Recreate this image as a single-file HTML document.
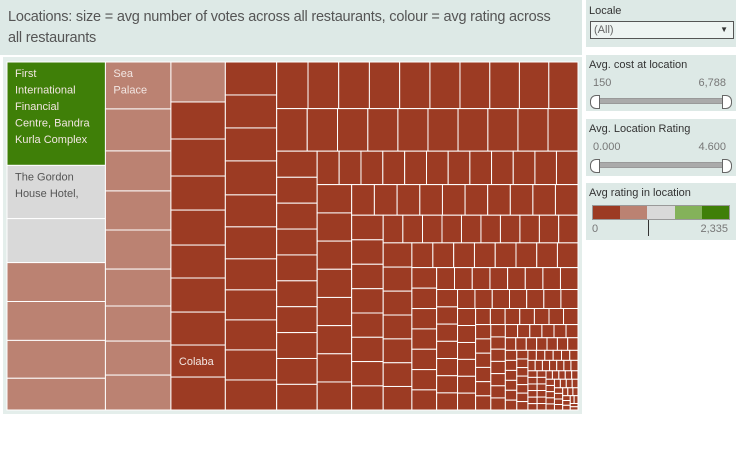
<!DOCTYPE html>
<html><head><meta charset="utf-8"><style>
body{margin:0;width:736px;height:454px;background:#fff;font-family:"Liberation Sans",sans-serif;position:relative;overflow:hidden}
.box{position:absolute;background:#dde9e6}
.t{position:absolute;font-size:11px;color:#333}
.n{position:absolute;font-size:11px;color:#777}
.track{position:absolute;height:4px;background:#aaa;border:1px solid #999}
.knob{position:absolute;width:8px;height:12px;background:#fff;border:1px solid #666}
</style></head><body>
<div class="box" style="left:0;top:0;width:582px;height:55px">
<div style="position:absolute;left:8px;top:7px;font-size:14.5px;letter-spacing:-0.2px;color:#555;line-height:21px;width:590px;white-space:nowrap">Locations: size = avg number of votes across all restaurants, colour = avg rating across<br>all restaurants</div></div>
<div style="position:absolute;left:3px;top:57px;width:579px;height:357px;background:#e4eeeb"></div>
<svg id="tm" width="736" height="454" style="position:absolute;left:0;top:0"></svg>

<div class="box" style="left:586px;top:0;width:150px;height:47px">
<div class="t" style="left:3px;top:5px">Locale</div>
<div style="position:absolute;left:4px;top:21px;width:139px;height:16px;border:1px solid #555;background:#eef4f2;font-size:11px;color:#666;line-height:16px;padding-left:3px">(All)<span style="position:absolute;right:5px;top:0;font-size:8px;color:#333">▼</span></div></div>

<div class="box" style="left:586px;top:55px;width:150px;height:56px">
<div class="t" style="left:3px;top:4px">Avg. cost at location</div>
<div class="n" style="left:7px;top:22px">150</div><div class="n" style="right:10px;top:22px">6,788</div>
<div class="track" style="left:10px;top:43px;width:132px"></div>
<div class="knob" style="left:4px;top:40px;border-radius:6px 0 0 6px"></div>
<div class="knob" style="left:136px;top:40px;border-radius:0 6px 6px 0"></div></div>

<div class="box" style="left:586px;top:119px;width:150px;height:57px">
<div class="t" style="left:3px;top:4px">Avg. Location Rating</div>
<div class="n" style="left:7px;top:22px">0.000</div><div class="n" style="right:10px;top:22px">4.600</div>
<div class="track" style="left:10px;top:43px;width:132px"></div>
<div class="knob" style="left:4px;top:40px;border-radius:6px 0 0 6px"></div>
<div class="knob" style="left:136px;top:40px;border-radius:0 6px 6px 0"></div></div>

<div class="box" style="left:586px;top:183px;width:150px;height:57px">
<div class="t" style="left:3px;top:4px">Avg rating in location</div>
<div style="position:absolute;left:6px;top:22px;width:136px;height:13px;border:1px solid #999;display:flex">
<div style="flex:1;background:#9c3b23"></div><div style="flex:1;background:#bb8272"></div><div style="flex:1;background:#d9d9d9"></div><div style="flex:1;background:#84b25a"></div><div style="flex:1;background:#3f7f08"></div></div>
<div class="n" style="left:6px;top:40px">0</div><div class="n" style="right:8px;top:40px">2,335</div>
<div style="position:absolute;left:62px;top:37px;width:1px;height:16px;background:#333"></div></div>

<script>
// size (avg votes) per location, grouped into strips
const groups = [
 [10100,5200,4300,3800,3800,3700,3100],
 [3050,2730,2600,2540,2540,2400,2280,2210,2270],
 [2160,2000,2000,1840,1890,1780,1840,1780,1730,1780],
 [1680,1680,1680,1730,1630,1630,1580,1530,1530,1530,1530],
 [1450,1420,1420,1400,1400,1390,1380,1370,1360,1350],
 [1290,1280,1280,1270,1270,1270,1260,1270,1270,1266],
 [1050,1040,1040,1040,1040,1040,1040,1040,1040,1030],
 [730,725,725,725,725,720,720,720,720,720,715,715],
 [970,965,965,965,965,965,965,960],
 [690,690,690,687,687,687,687,685,685,685],
 [770,765,765,760,760,760,760,755],
 [540,540,535,535,535,535,535,535,530,530],
 [690,685,680,680,680,675,670],
 [515,512,510,510,510,510,508,505],
 [505,502,500,500,500,498,495],
 [388,386,385,384,384,383,382,381],
 [360,358,357,357,357,356,355],
 [328,326,325,324,323,322,322],
 [305,304,303,303,302,302],
 [236,235,234,234,233,232,231],
 [216,216,215,215,214,214],
 [178,177,176,176,176,175,174],
 [160,159,158,158,157,156],
 [131,131,130,130,130,129,129],
 [114,114,113,113,112,112],
 [95,95,94,94,94,93,93],
 [84,84,83,83,82,82],
 [75,75,74,74,74,73,73],
 [60,60,60,60,59,58],
 [58,58,58,58,57,57],
 [54,54,54,54,53],
 [52,52,52,51,51],
 [50,50,50,49],
 [46,46,45,45],
 [40,40,40],
 [36,36,35],
 [30,30],
 [25,25]
];
// avg rating for leading locations (rest default low)
const ratings = [
 [2200,1200,1150,700,700,700,700],
 [700,700,700,700,700,700,700,700,700],
 [700]
];
const defaultRating = 150;
const labels = {"0-0":["First","International","Financial","Centre, Bandra","Kurla Complex"],"0-1":["The Gordon","House Hotel,"],"1-0":["Sea","Palace"],"2-8":["Colaba"]};
const colors = ["#9c3b23","#bb8272","#d9d9d9","#84b25a","#3f7f08"];
function colorOf(r){return colors[Math.min(4,Math.floor(r/467))];}

const svg=document.getElementById('tm');
const NS='http://www.w3.org/2000/svg';
let X=7,Y=62,W=571,H=348;
const total=groups.flat().reduce((a,b)=>a+b,0);
const scale=W*H/total;
groups.forEach((g,gi)=>{
  const s=g.reduce((a,b)=>a+b,0)*scale;
  const vertical = W > H*1.01;
  if(vertical){
    const w=gi===groups.length-1?W:s/H; let y=Y;
    g.forEach((v,i)=>{const h=v*scale/w;draw(X,y,w,h,gi,i);y+=h;});
    X+=w;W-=w;
  } else {
    const h=gi===groups.length-1?H:s/W; let x=X;
    g.forEach((v,i)=>{const w=v*scale/h;draw(x,Y,w,h,gi,i);x+=w;});
    Y+=h;H-=h;
  }
});
function draw(x,y,w,h,gi,i){
  const r=(ratings[gi]&&ratings[gi][i]!==undefined)?ratings[gi][i]:defaultRating;
  const el=document.createElementNS(NS,'rect');
  el.setAttribute('x',x);el.setAttribute('y',y);el.setAttribute('width',w);el.setAttribute('height',h);
  el.setAttribute('fill',colorOf(r));el.setAttribute('stroke','#fff');el.setAttribute('stroke-width','1');
  
  
  svg.appendChild(el);
  const lb=labels[gi+'-'+i];
  if(lb){
    const t=document.createElementNS(NS,'text');
    t.setAttribute('font-size','11');t.setAttribute('font-family','Liberation Sans, sans-serif');
    t.setAttribute('fill',r>900&&r<1400?'#555':'#f2e6e2');
    
    
    lb.forEach((line,k)=>{const sp=document.createElementNS(NS,'tspan');sp.setAttribute('x',x+8);
      sp.setAttribute('y',(gi===2?y+h/2+4:y+15+k*16.5));sp.textContent=line;t.appendChild(sp);});
    svg.appendChild(t);
  }
}
</script>
</body></html>
